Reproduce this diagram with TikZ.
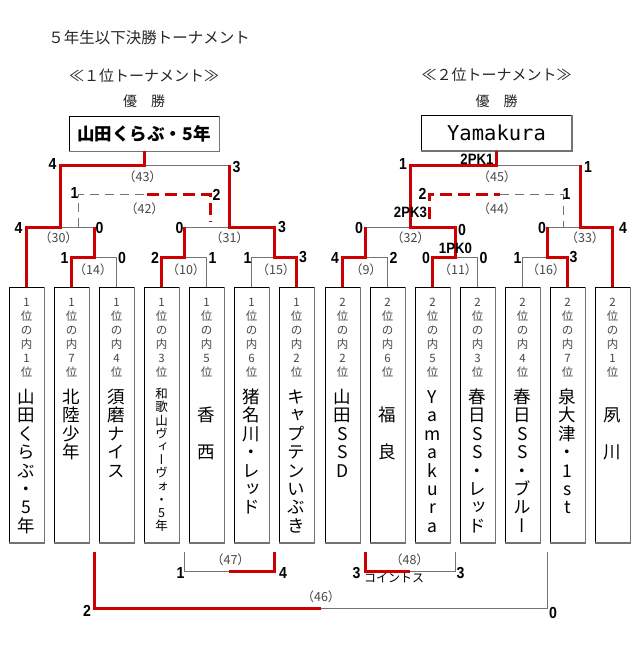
\documentclass[tikz,border=0pt]{standalone}
\usepackage{fontspec}
\usepackage{graphicx}
\setmainfont{Noto Sans CJK JP}
\newfontfamily\vfont[RawFeature=+vert]{Noto Sans CJK JP}
\newfontfamily\scf[FakeStretch=0.88]{Liberation Sans}
\newfontfamily\monof{DejaVu Sans Mono}
\newcommand{\nolsk}{\lineskiplimit=-20pt\relax}
\definecolor{wred}{RGB}{204,0,0}
\definecolor{lgray}{RGB}{115,115,115}
\definecolor{tgray}{RGB}{70,70,70}
\begin{document}
\begin{tikzpicture}[x=1pt,y=-1pt,
 win/.style={draw=wred, line width=3pt},
 lose/.style={draw=lgray, line width=1pt},
 windash/.style={win, dash pattern=on 12pt off 6pt},
 losedash/.style={lose, dash pattern=on 9pt off 6pt},
 team/.style={draw=black, line width=0.8pt, minimum width=35pt, minimum height=255pt, anchor=north, inner sep=0pt},
 champ/.style={draw=black, line width=0.8pt, minimum width=150pt, minimum height=35pt, inner sep=0pt},
 shade/.style={draw=lgray, line width=1.6pt},
 rank/.style={anchor=north, align=center, inner sep=0pt, text=tgray, font=\fontsize{11.5}{14}\selectfont\nolsk},
 tname/.style={anchor=north, align=center, inner sep=0pt, font=\vfont\fontsize{17.5}{18.4}\selectfont\nolsk},
 smallname/.style={tname, font=\vfont\fontsize{12.5}{13.2}\selectfont\nolsk},
 score/.style={inner sep=0pt, font=\scf\bfseries\fontsize{16}{16}\selectfont},
 pk/.style={inner sep=0pt, font=\scf\bfseries\fontsize{15}{15}\selectfont},
 mno/.style={inner sep=0pt, text=tgray, font=\fontsize{12.5}{12.5}\selectfont},
 head/.style={inner sep=0pt, text=black!85, font=\fontsize{15}{15}\selectfont},
 title/.style={inner sep=0pt, text=black!85, font=\fontsize{15.5}{15.5}\selectfont},
 note/.style={inner sep=0pt, font=\fontsize{12}{12}\selectfont}
]
\useasboundingbox (0,0) rectangle (640,650);

% titles
\node[title] (ttl) at (149,38) {５年生以下決勝トーナメント};
\node[head] (h1) at (144,75.5) {≪１位トーナメント≫};
\node[head] (h2) at (496.5,74.5) {≪２位トーナメント≫};
\node[head, font=\fontsize{14}{14}\selectfont] (v1) at (144,101) {優　勝};
\node[head, font=\fontsize{14}{14}\selectfont] (v2) at (496.5,101.5) {優　勝};

% champion boxes
\node[champ, font=\bfseries\fontsize{17.5}{17.5}\selectfont] (c1) at (144,133.5) {山田くらぶ・5年};
\node[champ, font=\monof\fontsize{20.5}{20.5}\selectfont] (c2) at (496.5,133) {Yamakura};

% team boxes
\foreach \i/\x in {1/26.5,2/71.5,3/116.5,4/161.5,5/206.5,6/251.5,7/296.5,8/342.5,9/387.5,10/432.5,11/477.5,12/522.5,13/567.5,14/612.5}
  \node[team] (b\i) at (\x,287) {};
\foreach \i in {1,...,14}
  \draw[shade] (b\i.north east) -- (b\i.south east) -- (b\i.south west);
\draw[shade] (c1.north east) -- (c1.south east) -- (c1.south west);
\draw[shade] (c2.north east) -- (c2.south east) -- (c2.south west);

% ranks
\foreach \i/\x/\r in {1/26.5/1,2/71.5/7,3/116.5/4,4/161.5/3,5/206.5/5,6/251.5/6,7/296.5/2}
  \node[rank] (r\i) at (\x,295.4) {\rule{0pt}{11pt}1\\位\\の\\内\\\r\\位};
\foreach \i/\x/\r in {8/342.5/2,9/387.5/6,10/432.5/5,11/477.5/3,12/522.5/4,13/567.5/7,14/612.5/1}
  \node[rank] (r\i) at (\x,295.4) {\rule{0pt}{11pt}2\\位\\の\\内\\\r\\位};

% team names
\node[tname] (n1) at (26.5,386.2) {\rule{0pt}{17pt}山\\田\\く\\ら\\ぶ\\・\\5\\年};
\node[tname] (n2) at (71.5,386.2) {\rule{0pt}{17pt}北\\陸\\少\\年};
\node[tname] (n3) at (116.5,386.2) {\rule{0pt}{17pt}須\\磨\\ナ\\イ\\ス};
\node[smallname] (n4) at (161.5,386.5) {\rule{0pt}{12pt}和\\歌\\山\\ヴ\\ィ\\ー\\ヴ\\ォ\\・\\5\\年};
\node[tname] (n5) at (206.5,386.2) {\rule{0pt}{17pt}　\\香\\　\\西};
\node[tname] (n6) at (251.5,386.2) {\rule{0pt}{17pt}猪\\名\\川\\・\\レ\\ッ\\ド};
\node[tname] (n7) at (296.5,386.2) {\rule{0pt}{17pt}キ\\ャ\\プ\\テ\\ン\\い\\ぶ\\き};
\node[tname] (n8) at (342.5,386.2) {\rule{0pt}{17pt}山\\田\\S\\S\\D};
\node[tname] (n9) at (387.5,386.2) {\rule{0pt}{17pt}　\\福\\　\\良};
\node[tname] (n10) at (432.5,386.2) {\rule{0pt}{17pt}Y\\a\\m\\a\\k\\u\\r\\a};
\node[tname] (n11) at (477.5,386.2) {\rule{0pt}{17pt}春\\日\\S\\S\\・\\レ\\ッ\\ド};
\node[tname] (n12) at (522.5,386.2) {\rule{0pt}{17pt}春\\日\\S\\S\\・\\ブ\\ル\\ー};
\node[tname] (n13) at (567.5,386.2) {\rule{0pt}{17pt}泉\\大\\津\\・\\1\\s\\t};
\node[tname] (n14) at (612.5,386.2) {\rule{0pt}{17pt}　\\夙\\　\\川};

% junctions
\coordinate (j14) at (94,257);
\coordinate (j10) at (184,257);
\coordinate (j15) at (274,257);
\coordinate (j30) at (60.25,227);
\coordinate (j31) at (229,227);
\coordinate (j43) at (144.5,165);
\coordinate (j9) at (365,257);
\coordinate (j11) at (455,257);
\coordinate (j16) at (547,257);
\coordinate (j32) at (410,227);
\coordinate (j33) at (580,227);
\coordinate (j45) at (496.5,165);
\coordinate (bot) at (0,552);
\coordinate (j47) at (229,571);
\coordinate (j48) at (410,571);
\coordinate (j46) at (320.5,608);
\coordinate (d42a) at (78,227);
\coordinate (d42b) at (78,194);
\coordinate (d42m) at (147,194);
\coordinate (d42c) at (210,194);
\coordinate (d42d) at (210,222);
\coordinate (d44a) at (429,219);
\coordinate (d44b) at (429,194);
\coordinate (d44m) at (500,194);
\coordinate (d44c) at (563,194);
\coordinate (d44d) at (563,227);

% losing lines
\draw[lose] (j14) -| (b3.north);
\draw[lose] (j10) -| (b5.north);
\draw[lose] (b6.north) |- (j15);
\draw[lose] (j30) -- (j14 |- j30);
\draw[lose] (j10 |- j31) -- (j31);
\draw[lose] (j43) -- (j31 |- j43);
\draw[lose] (j9) -| (b9.north);
\draw[lose] (j11) -| (b11.north);
\draw[lose] (b12.north) |- (j16);
\draw[lose] (j9 |- j32) -- (j32);
\draw[lose] (j16 |- j33) -- (j33);
\draw[lose] (j45) -- (j33 |- j45);
\draw[lose] (j10 |- bot) |- (j47);
\draw[lose] (j11 |- bot) |- (j48);
\draw[lose] (j16 |- bot) |- (j46);
\draw[losedash] (d42a) -- (d42b) -- (d42m);
\draw[losedash] (d44m) -- (d44c) -- (d44d);

% winning lines
\draw[win] (b1.north) |- (j30) |- (j43) -- (j43 |- c1.south);
\draw[win] (b2.north) |- (j14) -- (j14 |- j30);
\draw[win] (b4.north) |- (j10) -- (j10 |- j31);
\draw[win] (b7.north) |- (j15) -- (j15 |- j31) -- (j31) -- (j31 |- j43);
\draw[win] (b8.north) |- (j9) -- (j9 |- j32);
\draw[win] (b10.north) |- (j11) -- (j11 |- j32) -- (j32) |- (j45) -- (j45 |- c2.south);
\draw[win] (b13.north) |- (j16) -- (j16 |- j33);
\draw[win] (b14.north) |- (j33) -- (j33 |- j45);
\draw[win] (j15 |- bot) |- (j47);
\draw[win] (j9 |- bot) |- (j48);
\draw[win] (j14 |- bot) |- (j46);
\draw[windash] (d42m) -- (d42c) -- (d42d);
\draw[windash] (d44a) -- (d44b) -- (d44m);

% match numbers
\node[mno] (m43) at (142.5,177) {（43）};
\node[mno] (m42) at (144.5,209) {（42）};
\node[mno] (m30) at (58.5,238) {（30）};
\node[mno] (m31) at (229.5,238) {（31）};
\node[mno] (m14) at (93,270) {（14）};
\node[mno] (m10) at (186,270) {（10）};
\node[mno] (m15) at (276,270) {（15）};
\node[mno] (m45) at (497,177) {（45）};
\node[mno] (m44) at (497,209) {（44）};
\node[mno] (m32) at (410.5,238) {（32）};
\node[mno] (m33) at (585,238) {（33）};
\node[mno] (m9) at (366,270) {（9）};
\node[mno] (m11) at (458,270) {（11）};
\node[mno] (m16) at (546,270) {（16）};
\node[mno] (m47) at (230.5,560) {（47）};
\node[mno] (m48) at (409.5,560) {（48）};
\node[mno] (m46) at (321,597) {（46）};

% scores left
\node[score] (s1) at (52.5,163.5) {4};
\node[score] (s2) at (236.5,167.5) {3};
\node[score] (s3) at (74.5,193) {1};
\node[score] (s4) at (216.5,194.5) {2};
\node[score] (s5) at (18.5,227.5) {4};
\node[score] (s6) at (99.5,227.5) {0};
\node[score] (s7) at (179.5,227.5) {0};
\node[score] (s8) at (282,227.5) {3};
\node[score] (s9) at (64.5,257.5) {1};
\node[score] (s10) at (122,257.5) {0};
\node[score] (s11) at (155,257.5) {2};
\node[score] (s12) at (212.5,257.5) {1};
\node[score] (s13) at (247.5,257.5) {1};
\node[score] (s14) at (303,257.5) {3};
% scores right
\node[score] (s15) at (403,164) {1};
\node[score] (s16) at (588,167) {1};
\node[score] (s17) at (422.5,193.5) {2};
\node[score] (s18) at (566.5,193.5) {1};
\node[score] (s19) at (359,227.5) {0};
\node[score] (s20) at (462,229.5) {0};
\node[score] (s21) at (542,227.5) {0};
\node[score] (s22) at (623,227.5) {4};
\node[score] (s23) at (335,257.5) {4};
\node[score] (s24) at (393.5,257.5) {2};
\node[score] (s25) at (426,257.5) {0};
\node[score] (s26) at (483.5,257.5) {0};
\node[score] (s27) at (517.5,257.5) {1};
\node[score] (s28) at (573.5,257.5) {3};
% scores bottom
\node[score] (s29) at (180.5,572.5) {1};
\node[score] (s30) at (283,573) {4};
\node[score] (s31) at (356.5,573) {3};
\node[score] (s32) at (460.5,573) {3};
\node[score] (s33) at (87,611) {2};
\node[score] (s34) at (553,613) {0};
% PK
\node[pk] (pk1) at (477,159.5) {2PK1};
\node[pk] (pk2) at (410.5,212.5) {2PK3};
\node[pk] (pk3) at (455.5,248.5) {1PK0};
\node[note] (coin) at (394,578) {コイントス};
\end{tikzpicture}
\end{document}
